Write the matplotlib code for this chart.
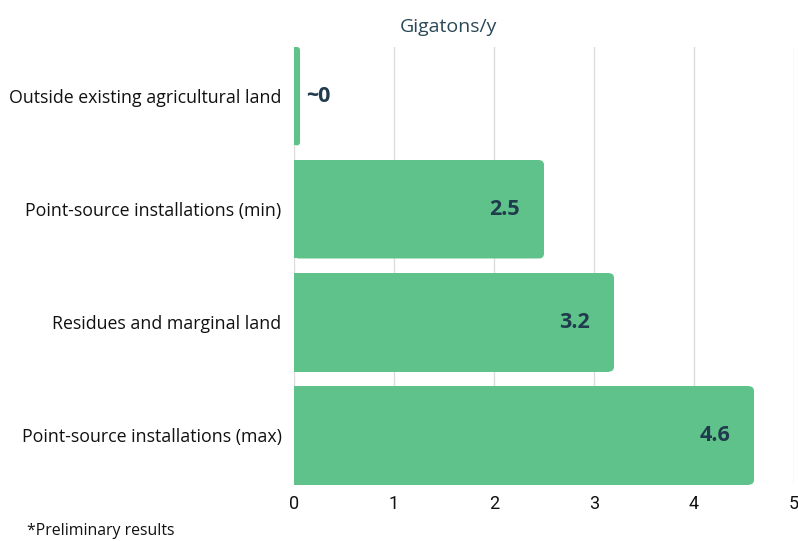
import matplotlib
matplotlib.use("Agg")
import matplotlib.pyplot as plt
from matplotlib.patches import FancyBboxPatch

# data
categories = ["Outside existing agricultural land", "Point-source installations (min)",
              "Residues and marginal land", "Point-source installations (max)"]
values = [0.06, 2.5, 3.2, 4.6]
labels = ["~0", "2.5", "3.2", "4.6"]
xticks = [0, 1, 2, 3, 4, 5]

green = "#5ec28a"
dark = "#1f3b4d"

fig = plt.figure(figsize=(7.98, 5.41), dpi=100)
ax = fig.add_axes([294 / 798, 1 - 485 / 541, 500 / 798, 438 / 541])

ypos = list(range(len(values)))
h = 0.87
bars = ax.barh(ypos, values, height=h, color=green, zorder=2)

# rounded right corners: square left part + rounded patch
for b in bars:
    x0, y0, w, hh = b.get_x(), b.get_y(), b.get_width(), b.get_height()
    r = min(0.05, w / 2)
    b.set_width(max(w - r, 0))
    ax.add_patch(FancyBboxPatch((x0, y0), w, hh,
                                boxstyle=f"round,pad=0,rounding_size={r}",
                                mutation_aspect=0.885, fc=green, ec="none", zorder=2))

for y, v, t in zip(ypos, values, labels):
    if v < 0.5:
        ax.text(v + 0.06, y, t, ha="left", va="center", fontsize=15.5,
                fontweight="bold", color=dark, family="Open Sans")
    else:
        ax.text(v - 0.24, y, t, ha="right", va="center", fontsize=15.5,
                fontweight="bold", color=dark, family="Open Sans")

ax.set_xlim(0, 5)
ax.set_ylim(3 + h / 2 + 0.003, -h / 2)
ax.set_yticks(ypos)
ax.set_yticklabels(categories, fontsize=12.8, family="Open Sans", color="#111111")
ax.set_xticks(xticks)
ax.set_xticklabels([str(x) for x in xticks], fontsize=13,
                   family=["Roboto", "DejaVu Sans"], color="#111111")
ax.tick_params(axis="y", length=0, pad=9)
ax.tick_params(axis="x", length=0, pad=7)
ax.grid(axis="x", color="#dcdcdc", linewidth=1, zorder=0)
for s in ax.spines.values():
    s.set_visible(False)

fig.text(448 / 798, 1 - 27 / 541, "Gigatons/y", ha="center", va="center",
         fontsize=14, color="#2a4858", family="Open Sans")
fig.text(27 / 798, 1 - 531 / 541, "*Preliminary results", ha="left", va="center",
         fontsize=11.4, color="#111111", family="Open Sans")

fig.savefig("out.png", dpi=100)
